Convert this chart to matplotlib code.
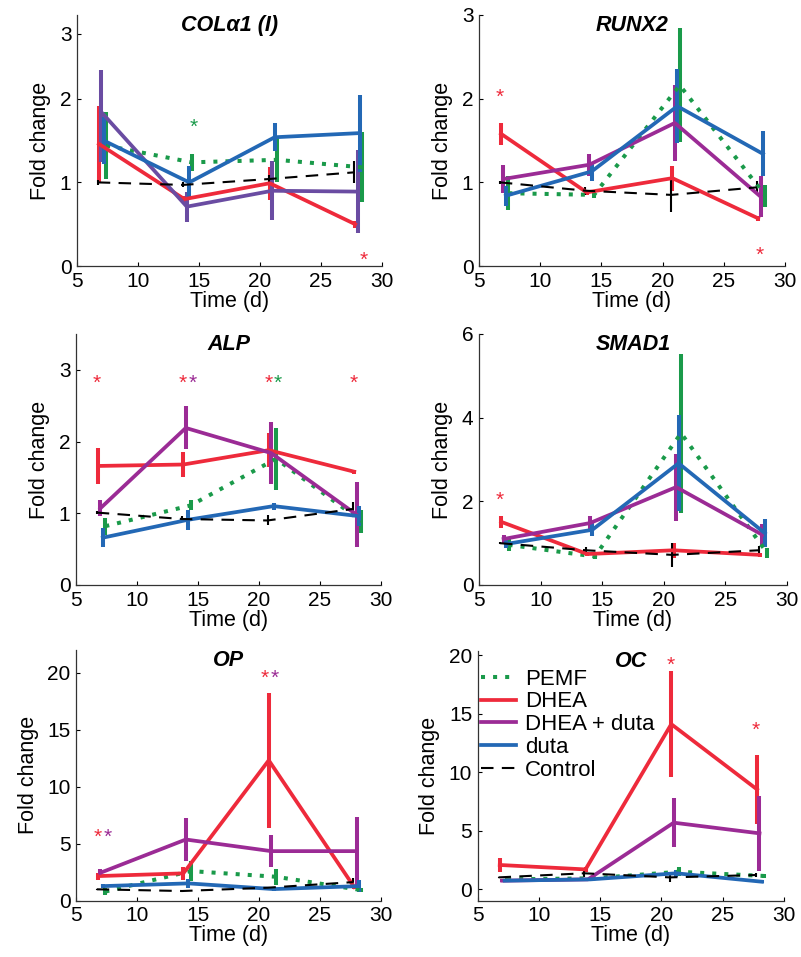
import numpy as np
import matplotlib
matplotlib.use("Agg")
import matplotlib.pyplot as plt

plt.rcParams['font.family'] = ['Liberation Sans', 'DejaVu Sans']

# ---------------- data ----------------
days = [7, 14, 21, 28]
series = ["PEMF", "DHEA", "DHEA + duta", "duta", "Control"]

genes = ["COLα1 (I)", "RUNX2", "ALP", "SMAD1", "OP", "OC"]

# means per gene, per series (days 7,14,21,28)
col_mean = {
    "PEMF":        [1.44, 1.24, 1.27, 1.18],
    "DHEA":        [1.46, 0.80, 0.99, 0.50],
    "DHEA + duta": [1.84, 0.71, 0.90, 0.89],
    "duta":        [1.50, 1.00, 1.54, 1.59],
    "Control":     [1.00, 0.97, 1.04, 1.12],
}
col_err = {
    "PEMF":        [0.40, 0.10, 0.27, 0.42],
    "DHEA":        [0.45, 0.04, 0.20, 0.04],
    "DHEA + duta": [0.60, 0.18, 0.35, 0.50],
    "duta":        [0.28, 0.20, 0.17, 0.47],
    "Control":     [0.03, 0.03, 0.05, 0.13],
}
runx_mean = {
    "PEMF":        [0.87, 0.85, 2.16, 0.84],
    "DHEA":        [1.58, 0.88, 1.05, 0.57],
    "DHEA + duta": [1.04, 1.21, 1.71, 0.83],
    "duta":        [0.84, 1.13, 1.91, 1.34],
    "Control":     [1.00, 0.90, 0.85, 0.94],
}
runx_err = {
    "PEMF":        [0.20, 0.04, 0.68, 0.13],
    "DHEA":        [0.13, 0.03, 0.15, 0.03],
    "DHEA + duta": [0.17, 0.13, 0.45, 0.25],
    "duta":        [0.12, 0.11, 0.44, 0.27],
    "Control":     [0.02, 0.05, 0.20, 0.07],
}
alp_mean = {
    "PEMF":        [0.82, 1.11, 1.76, 0.89],
    "DHEA":        [1.66, 1.68, 1.88, 1.58],
    "DHEA + duta": [1.07, 2.19, 1.84, 0.98],
    "duta":        [0.66, 0.91, 1.10, 0.96],
    "Control":     [1.01, 0.92, 0.90, 1.06],
}
alp_err = {
    "PEMF":        [0.12, 0.07, 0.43, 0.16],
    "DHEA":        [0.25, 0.17, 0.24, 0.03],
    "DHEA + duta": [0.11, 0.30, 0.43, 0.45],
    "duta":        [0.13, 0.14, 0.05, 0.14],
    "Control":     [0.02, 0.04, 0.07, 0.10],
}
smad_mean = {
    "PEMF":        [0.96, 0.68, 3.63, 0.76],
    "DHEA":        [1.51, 0.74, 0.83, 0.72],
    "DHEA + duta": [1.10, 1.48, 2.34, 1.20],
    "duta":        [0.98, 1.32, 2.91, 1.24],
    "Control":     [1.00, 0.83, 0.72, 0.83],
}
smad_err = {
    "PEMF":        [0.15, 0.05, 1.90, 0.12],
    "DHEA":        [0.15, 0.05, 0.18, 0.05],
    "DHEA + duta": [0.10, 0.16, 0.80, 0.25],
    "duta":        [0.10, 0.16, 1.15, 0.33],
    "Control":     [0.03, 0.08, 0.28, 0.10],
}
op_mean = {
    "PEMF":        [0.80, 2.60, 2.10, 0.93],
    "DHEA":        [2.16, 2.40, 12.32, 1.20],
    "DHEA + duta": [2.45, 5.37, 4.35, 4.35],
    "duta":        [1.28, 1.52, 1.02, 1.28],
    "Control":     [1.00, 0.85, 1.14, 1.63],
}
op_err = {
    "PEMF":        [0.30, 0.90, 0.70, 0.20],
    "DHEA":        [0.30, 0.60, 5.90, 0.20],
    "DHEA + duta": [0.30, 1.85, 1.40, 3.00],
    "duta":        [0.20, 0.40, 0.20, 0.50],
    "Control":     [0.05, 0.10, 0.10, 0.40],
}
oc_mean = {
    "PEMF":        [0.85, 0.94, 1.50, 1.14],
    "DHEA":        [2.08, 1.70, 14.10, 8.53],
    "DHEA + duta": [0.74, 0.85, 5.69, 4.78],
    "duta":        [0.74, 0.85, 1.37, 0.65],
    "Control":     [1.02, 1.37, 1.02, 1.22],
}
oc_err = {
    "PEMF":        [0.15, 0.15, 0.40, 0.20],
    "DHEA":        [0.60, 0.20, 4.50, 2.95],
    "DHEA + duta": [0.15, 0.15, 2.10, 3.20],
    "duta":        [0.15, 0.15, 0.30, 0.15],
    "Control":     [0.05, 0.30, 0.40, 0.20],
}

means = [col_mean, runx_mean, alp_mean, smad_mean, op_mean, oc_mean]
errs = [col_err, runx_err, alp_err, smad_err, op_err, oc_err]

# significance markers: (x, y, series)
stars = [
    [(14.6, 1.73, "PEMF"), (28.5, 0.14, "DHEA")],
    [(6.66, 2.09, "DHEA"), (27.9, 0.21, "DHEA")],
    [(6.72, 2.9, "DHEA"), (13.74, 2.9, "DHEA"), (14.56, 2.9, "DHEA + duta"),
     (20.76, 2.9, "DHEA"), (21.5, 2.9, "PEMF"), (27.8, 2.9, "DHEA")],
    [(6.65, 2.17, "DHEA")],
    [(6.75, 6.1, "DHEA"), (7.57, 6.1, "DHEA + duta"),
     (20.49, 20.05, "DHEA"), (21.3, 20.05, "DHEA + duta")],
    [(20.73, 19.7, "DHEA"), (27.7, 14.1, "DHEA")],
]

# ---------------- style ----------------
colors = {
    "PEMF": "#1a9a4a",
    "DHEA": "#ee2a3b",
    "DHEA + duta": "#9b2b95",
    "duta": "#2368b5",
    "Control": "#000000",
}
purple_first = "#6a4ca2"
offsets = {"PEMF": 0.4, "DHEA": -0.2, "DHEA + duta": 0.0, "duta": 0.2, "Control": -0.3}

positions = [
    [77 / 801, 1 - 266 / 957, 305 / 801, 251 / 957],
    [479 / 801, 1 - 266 / 957, 306 / 801, 251 / 957],
    [76 / 801, 1 - 585 / 957, 305 / 801, 251 / 957],
    [479 / 801, 1 - 585 / 957, 308 / 801, 251 / 957],
    [76 / 801, 1 - 900.7 / 957, 305 / 801, 250.7 / 957],
    [477.7 / 801, 1 - 900.7 / 957, 306.3 / 801, 250 / 957],
]
ylims = [(0, 3.29), (0, 3), (0, 3.5), (0, 6), (0, 22), (-0.97, 20.37)]
yticks = [[0, 1, 2, 3], [0, 1, 2, 3], [0, 1, 2, 3], [0, 2, 4, 6],
          [0, 5, 10, 15, 20], [0, 5, 10, 15, 20]]

FS = 15.5
TFS = 15

fig = plt.figure(figsize=(8.01, 9.57), dpi=100)

k = 0.777
def fwd(y):
    y = np.asarray(y, dtype=float)
    return np.where(y <= 2, y, 2 + (y - 2) * k)
def inv(t):
    t = np.asarray(t, dtype=float)
    return np.where(t <= 2, t, 2 + (t - 2) / k)

for i, gene in enumerate(genes):
    ax = fig.add_axes(positions[i])
    if i == 0:
        ax.set_yscale('function', functions=(fwd, inv))
    handles = []
    for s in series:
        c = colors[s]
        if i == 0 and s == "DHEA + duta":
            c = purple_first
        x = np.array(days) + offsets[s]
        if s == "PEMF":
            lw, ls = 2.9, (0, (1, 2))
        elif s == "Control":
            lw, ls = 1.5, (0, (6, 4))
        else:
            lw, ls = 2.7, '-'
        cont = ax.errorbar(x, means[i][s], yerr=errs[i][s], color=c, lw=lw,
                           elinewidth=(1.5 if s == "Control" else 2.9),
                           capsize=0, label=s)
        line = cont[0]
        line.set_linestyle(ls)
        line.set_dash_capstyle('butt')
        handles.append(line)
    for (sx, sy, ss) in stars[i]:
        ax.annotate("*", xy=(sx, sy), xytext=(0, -8.6), textcoords='offset points',
                    ha='center', va='baseline', color=colors[ss], fontsize=TFS)
    ax.set_xlim(5, 30)
    ax.set_ylim(*ylims[i])
    ax.set_xticks([5, 10, 15, 20, 25, 30])
    ax.set_yticks(yticks[i])
    ax.tick_params(direction='in', length=3, width=0.8, labelsize=TFS, pad=4)
    for sp in ['top', 'right']:
        ax.spines[sp].set_visible(False)
    for sp in ['left', 'bottom']:
        ax.spines[sp].set_color('#333333')
        ax.spines[sp].set_linewidth(0.9)
    ax.set_xlabel("Time (d)", fontsize=FS, labelpad=0)
    ax.set_ylabel("Fold change", fontsize=FS, labelpad=6)
    ax.text(0.5, 1.0, gene, transform=ax.transAxes, ha='center', va='top',
            fontsize=FS, fontweight='bold', fontstyle='italic')
    if i == 5:
        ax.legend(handles=handles, labels=series, loc='upper left',
                  bbox_to_anchor=(0.005, 0.937), frameon=False, fontsize=16,
                  handlelength=1.55, handletextpad=0.4, labelspacing=0.08,
                  borderaxespad=0.0, borderpad=0.1)

fig.savefig("out.png", dpi=100)
